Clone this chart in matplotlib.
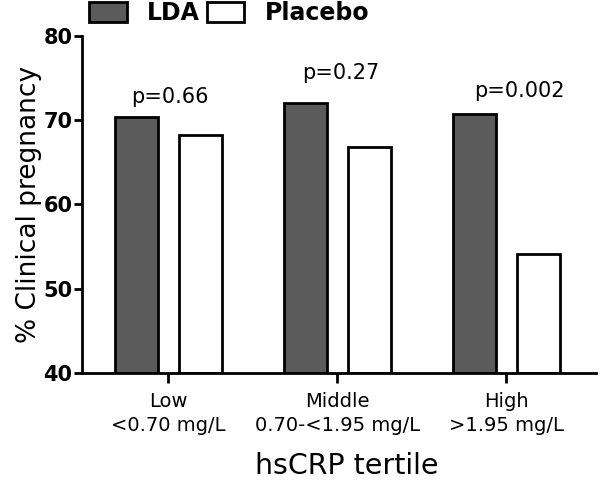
import matplotlib
matplotlib.use("Agg")
import matplotlib.pyplot as plt
import numpy as np

plt.rcParams['font.family'] = ['DejaVu Sans']

tertiles = ['Low\n<0.70 mg/L', 'Middle\n0.70-<1.95 mg/L', 'High\n>1.95 mg/L']
lda = [70.4, 72.1, 70.7]
placebo = [68.3, 66.8, 54.1]
p_labels = ['p=0.66', 'p=0.27', 'p=0.002']
p_heights = [72.05, 74.9, 72.75]
p_xshift = [0.01, 0.02, 0.08]

fig = plt.figure(figsize=(6, 4.86), dpi=100)
ax = fig.add_axes([0.137, 0.2325, 0.856, 0.6935])

x = np.arange(len(tertiles))
w = 0.255
off = 0.19
ax.bar(x - off, np.array(lda) - 40, w, bottom=40, color='#5b5b5b',
       edgecolor='black', linewidth=2, label='LDA')
ax.bar(x + off, np.array(placebo) - 40, w, bottom=40, color='white',
       edgecolor='black', linewidth=2, label='Placebo')

for i in range(len(x)):
    ax.text(x[i] + p_xshift[i], p_heights[i], p_labels[i], ha='center', va='baseline',
            fontsize=15)

ax.set_ylim(40, 80)
ax.set_xlim(-0.51, 2.53)
ax.set_yticks([40, 50, 60, 70, 80])
ax.set_xticks(x)
ax.set_xticklabels(tertiles, fontsize=14, linespacing=1.3)
for t in ax.get_yticklabels():
    t.set_fontsize(15)
    t.set_fontweight('bold')

ax.spines['top'].set_visible(False)
ax.spines['right'].set_visible(False)
ax.spines['left'].set_linewidth(2)
ax.spines['bottom'].set_linewidth(2)
ax.tick_params(axis='y', width=2, length=6, direction='out', pad=1)
ax.tick_params(axis='x', width=2, length=7, direction='out', pad=7)

ax.set_ylabel('% Clinical pregnancy', fontsize=19, labelpad=1)
ax.set_xlabel('hsCRP tertile', fontsize=20.5, labelpad=12)
ax.xaxis.set_label_coords(0.516, -0.235)

ax.legend(loc='center left', bbox_to_anchor=(0.148, 0.973),
          bbox_transform=fig.transFigure, ncol=2, frameon=False,
          prop={'weight': 'bold', 'size': 17},
          handlelength=1.6, handleheight=0.95, columnspacing=0.3,
          handletextpad=0.85, borderaxespad=0, borderpad=0)

fig.savefig('out.png', dpi=100)
